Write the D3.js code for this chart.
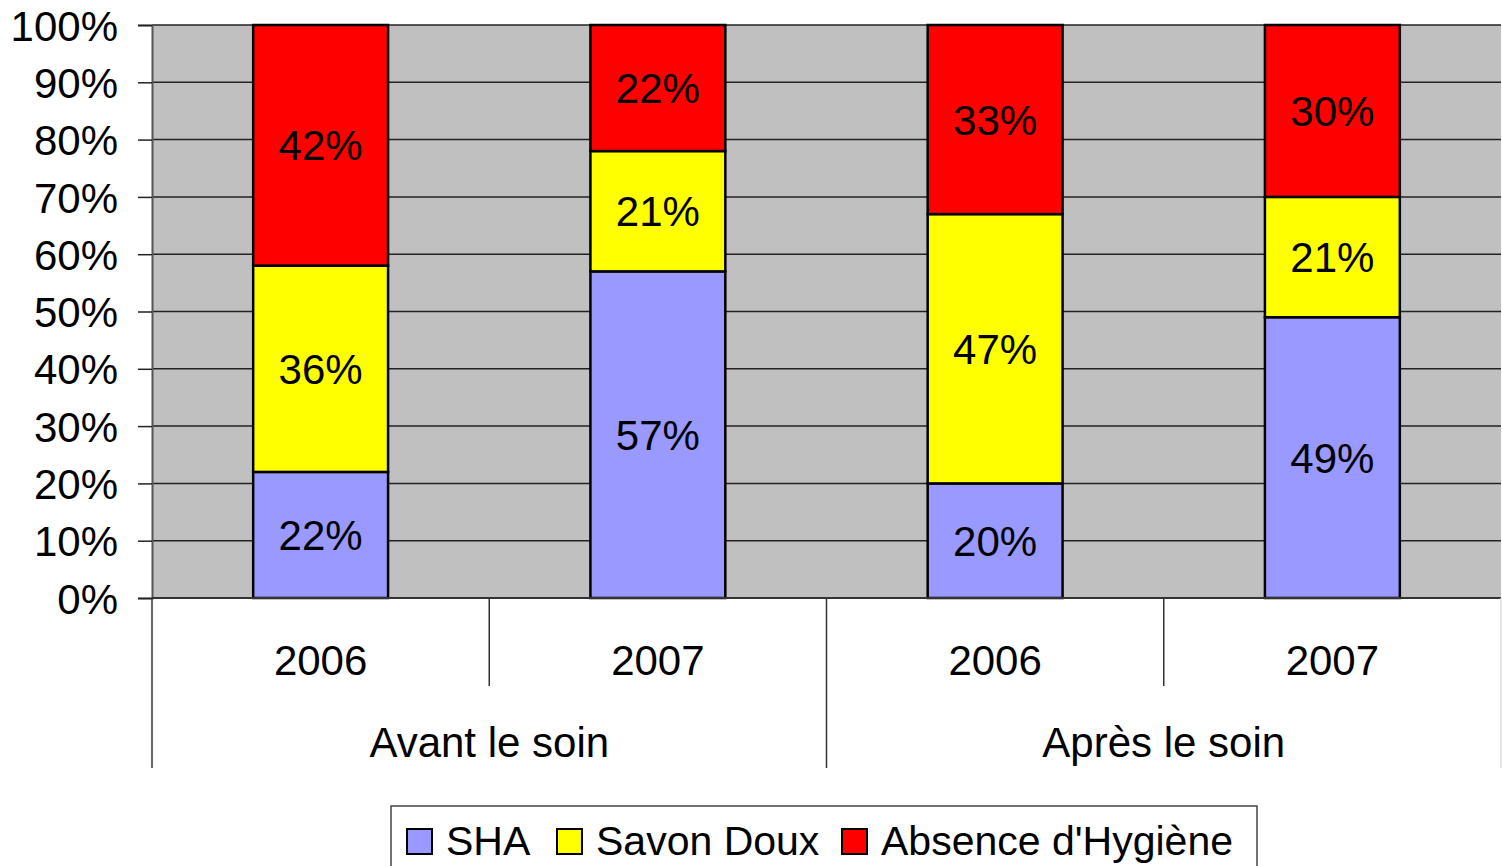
<!DOCTYPE html>
<html>
<head>
<meta charset="utf-8">
<script src="https://cdn.jsdelivr.net/npm/d3@7"></script>
<style>
  body { margin: 0; background: #fff; }
  text { font-family: "Liberation Sans", Arial, sans-serif; fill: #000; }
</style>
</head>
<body>
<div id="chart"></div>
<script>
const years = ['2006', '2007', '2006', '2007'];
const groups = ['Avant le soin', 'Après le soin'];
const seriesNames = ['SHA', 'Savon Doux', "Absence d'Hygiène"];
const sha = [22, 57, 20, 49];
const savon = [36, 21, 47, 21];
const absence = [42, 22, 33, 30];
const yTicks = [0, 10, 20, 30, 40, 50, 60, 70, 80, 90, 100];
const colors = ['#9999FF', '#FFFF00', '#FF0000'];

const width = 1502;
const height = 866;
const plot = { left: 152, top: 25, right: 1501, bottom: 598 };
const fontSize = '42px';

const svg = d3.select('#chart').append('svg')
  .attr('width', width)
  .attr('height', height);

const x = d3.scaleBand()
  .domain(d3.range(years.length))
  .range([plot.left, plot.right])
  .paddingInner(0.6)
  .paddingOuter(0.3);

const y = d3.scaleLinear()
  .domain([0, 100])
  .range([plot.bottom, plot.top]);

// plot background
svg.append('rect')
  .attr('x', plot.left)
  .attr('y', plot.top)
  .attr('width', plot.right - plot.left)
  .attr('height', plot.bottom - plot.top)
  .attr('fill', '#C0C0C0');

// gridlines
svg.append('g')
  .attr('class', 'grid')
  .selectAll('line')
  .data(yTicks)
  .enter().append('line')
  .attr('x1', plot.left)
  .attr('x2', plot.right)
  .attr('y1', d => y(d))
  .attr('y2', d => y(d))
  .attr('stroke', '#222')
  .attr('stroke-width', 1.5);

// y axis
const yAxis = d3.axisLeft(y)
  .tickValues(yTicks)
  .tickSize(14)
  .tickFormat(d => d + '%');

const ya = svg.append('g')
  .attr('transform', `translate(${plot.left},0)`)
  .call(yAxis);
ya.select('.domain').attr('stroke', '#555').attr('stroke-width', 2);
ya.selectAll('.tick line').attr('stroke', '#222').attr('stroke-width', 1.5);
ya.selectAll('.tick text')
  .attr('x', -34)
  .attr('dy', '0.36em')
  .style('font-size', fontSize)
  .style('font-family', '"Liberation Sans", Arial, sans-serif');

// stacked bars
const rows = years.map((yr, i) => ({ i, SHA: sha[i], 'Savon Doux': savon[i], "Absence d'Hygiène": absence[i] }));
const layers = d3.stack().keys(seriesNames)(rows);

const layerG = svg.selectAll('g.layer')
  .data(layers)
  .enter().append('g')
  .attr('class', 'layer')
  .attr('fill', (d, k) => colors[k]);

layerG.selectAll('rect')
  .data(d => d)
  .enter().append('rect')
  .attr('x', d => x(d.data.i))
  .attr('width', x.bandwidth())
  .attr('y', d => y(d[1]))
  .attr('height', d => y(d[0]) - y(d[1]))
  .attr('stroke', '#000')
  .attr('stroke-width', 2.5);

layerG.selectAll('text')
  .data(d => d)
  .enter().append('text')
  .attr('x', d => x(d.data.i) + x.bandwidth() / 2)
  .attr('y', d => (y(d[0]) + y(d[1])) / 2)
  .attr('dy', '0.36em')
  .attr('text-anchor', 'middle')
  .style('font-size', fontSize)
  .text(d => Math.round(d[1] - d[0]) + '%');

// category axis (two levels)
const step = (plot.right - plot.left) / years.length;
svg.append('line')
  .attr('x1', plot.left).attr('x2', plot.right)
  .attr('y1', plot.bottom).attr('y2', plot.bottom)
  .attr('stroke', '#333').attr('stroke-width', 2);

const sepG = svg.append('g').attr('stroke-width', 1.5);
d3.range(years.length + 1).forEach(k => {
  const xx = plot.left + k * step;
  const long = k % 2 === 0;
  sepG.append('line')
    .attr('x1', xx).attr('x2', xx)
    .attr('y1', plot.bottom)
    .attr('y2', long ? 768 : 686)
    .attr('stroke', k === years.length ? '#ddd' : '#333');
});

svg.append('g').selectAll('text')
  .data(years)
  .enter().append('text')
  .attr('x', (d, i) => x(i) + x.bandwidth() / 2)
  .attr('y', 675)
  .attr('text-anchor', 'middle')
  .style('font-size', fontSize)
  .text(d => d);

svg.append('g').selectAll('text')
  .data(groups)
  .enter().append('text')
  .attr('x', (d, i) => plot.left + step * (2 * i + 1))
  .attr('y', 757)
  .attr('text-anchor', 'middle')
  .style('font-size', fontSize)
  .text(d => d);

// legend
const legend = svg.append('g');
legend.append('rect')
  .attr('x', 391).attr('y', 806)
  .attr('width', 866).attr('height', 80)
  .attr('fill', '#fff')
  .attr('stroke', '#444').attr('stroke-width', 1.5);

const legendX = [407, 557, 842];
seriesNames.forEach((name, k) => {
  legend.append('rect')
    .attr('x', legendX[k]).attr('y', 829)
    .attr('width', 25).attr('height', 25)
    .attr('fill', colors[k])
    .attr('stroke', '#000').attr('stroke-width', 2);
  legend.append('text')
    .attr('x', legendX[k] + 39).attr('y', 855)
    .style('font-size', '41px')
    .text(name);
});
</script>
</body>
</html>
